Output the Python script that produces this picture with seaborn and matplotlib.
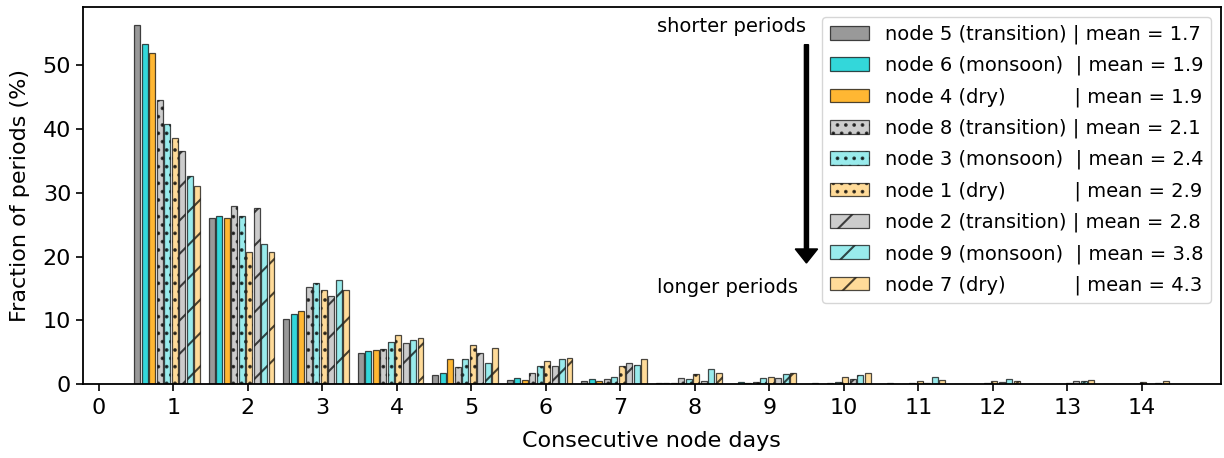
import matplotlib
matplotlib.use('Agg')
from matplotlib import pyplot as plt
from matplotlib.colors import to_rgba
import seaborn as sns
import pandas as pd

# fraction of periods (%) per run length, one list per node, days 1..14
days = list(range(1, 15))

node5 = [56.3, 26.1, 10.2, 4.9, 1.4, 0.7, 0.5, 0.15, 0.05, 0.1, 0.05, 0.05, 0.0, 0.0]
node6 = [53.3, 26.3, 11.0, 5.2, 1.8, 1.0, 0.8, 0.2, 0.37, 0.15, 0.15, 0.05, 0.05, 0.0]
node4 = [51.9, 26.1, 11.5, 5.4, 3.9, 0.6, 0.5, 0.15, 0.26, 0.05, 0.0, 0.0, 0.0, 0.0]
node8 = [44.6, 28.0, 15.3, 5.6, 2.7, 1.7, 0.8, 1.05, 0.42, 0.15, 0.05, 0.05, 0.0, 0.0]
node3 = [40.8, 26.3, 15.9, 6.6, 3.9, 2.8, 1.1, 0.9, 0.94, 0.42, 0.15, 0.2, 0.05, 0.05]
node1 = [38.6, 20.8, 14.8, 7.7, 6.2, 3.6, 2.8, 1.6, 1.2, 1.2, 0.52, 0.52, 0.15, 0.37]
node2 = [36.6, 27.6, 13.8, 6.5, 4.9, 2.9, 3.3, 0.5, 1.0, 0.84, 0.15, 0.37, 0.47, 0.1]
node9 = [32.7, 21.9, 16.3, 6.9, 3.3, 3.9, 3.1, 2.35, 1.57, 1.41, 1.15, 0.78, 0.57, 0.26]
node7 = [31.0, 20.7, 14.7, 7.3, 5.7, 4.1, 3.9, 1.8, 1.83, 1.83, 0.63, 0.47, 0.63, 0.47]

series = [node5, node6, node4, node8, node3, node1, node2, node9, node7]
nodes = ['node 5', 'node 6', 'node 4', 'node 8', 'node 3', 'node 1', 'node 2', 'node 9', 'node 7']
labels = [
    'node 5 (transition) | mean = 1.7',
    'node 6 (monsoon)  | mean = 1.9',
    'node 4 (dry)           | mean = 1.9',
    'node 8 (transition) | mean = 2.1',
    'node 3 (monsoon)  | mean = 2.4',
    'node 1 (dry)           | mean = 2.9',
    'node 2 (transition) | mean = 2.8',
    'node 9 (monsoon)  | mean = 3.8',
    'node 7 (dry)           | mean = 4.3',
]
seasons = ['grey', 'darkturquoise', 'orange'] * 3
hatches = ['', '', '', '..', '..', '..', '/', '/', '/']
alphas = [0.8] * 3 + [0.4] * 6

df = pd.concat([
    pd.DataFrame({'day': days, 'pct': vals, 'node': name})
    for name, vals in zip(nodes, series)
], ignore_index=True)

sns.set_style('ticks')
plt.rcParams['font.family'] = ['DejaVu Sans']
plt.rcParams['axes.edgecolor'] = 'black'
plt.rcParams['axes.linewidth'] = 1.3
plt.rcParams['xtick.color'] = 'black'
plt.rcParams['ytick.color'] = 'black'
plt.rcParams['text.color'] = 'black'
plt.rcParams['axes.labelcolor'] = 'black'
plt.rcParams['hatch.linewidth'] = 1.5

fig, ax = plt.subplots(figsize=(12.24, 4.58), dpi=100)
fig.subplots_adjust(left=0.0678, right=0.9973, top=0.9847, bottom=0.1609)

sns.barplot(data=df, x='day', y='pct', hue='node', hue_order=nodes,
            native_scale=True, width=0.9, gap=0.2, errorbar=None,
            legend=False, ax=ax)

edge = to_rgba('black', 0.7)
for cont, c, h, a in zip(ax.containers, seasons, hatches, alphas):
    for bar in cont:
        bar.set_x(bar.get_x() - 0.08)
        bar.set_facecolor(to_rgba(c, a))
        bar.set_edgecolor(edge)
        bar.set_linewidth(0.9)
        bar.set_hatch(h)

ax.set_xlim(-0.21, 15.06)
ax.set_ylim(0, 59.1)
ax.set_xticks(range(0, 15))
ax.set_yticks(range(0, 60, 10))
ax.tick_params(labelsize=16, length=5, width=1.2)
ax.tick_params(axis='x', pad=5)
ax.set_xlabel('Consecutive node days', fontsize=16, labelpad=9)
ax.set_ylabel('Fraction of periods (%)', fontsize=16, labelpad=9)

ax.arrow(9.5, 53.2, 0, -34.2, width=0.055, head_width=0.3, head_length=2.2,
         length_includes_head=True, color='black')
ax.text(9.49, 56.0, 'shorter periods', ha='right', va='center', fontsize=14)
ax.text(7.49, 15.2, 'longer periods', ha='left', va='center', fontsize=14)

ax.legend(ax.containers, labels, loc='upper right', fontsize=14, labelspacing=0.61)

plt.savefig('out.png', dpi=100)
